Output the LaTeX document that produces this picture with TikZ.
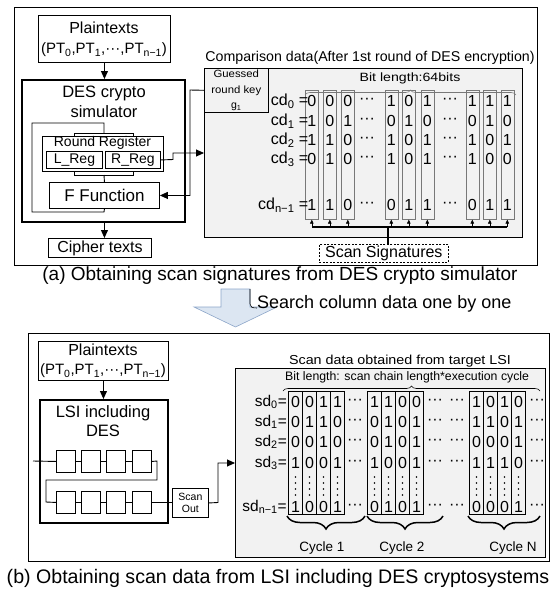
\documentclass[tikz,border=0pt]{standalone}
\usepackage{fontspec}
\usepackage{graphicx}
\setmainfont{Liberation Sans}
\usetikzlibrary{arrows.meta,decorations.pathreplacing}
\newcommand{\fsz}[1]{\fontsize{#1}{#1}\selectfont}
\newcommand{\ddd}{\textperiodcentered\textperiodcentered\textperiodcentered}
\newcommand{\hstr}[2]{\scalebox{#1}[1]{#2}}
\definecolor{grayfill}{RGB}{242,242,242}
\definecolor{colgray}{RGB}{120,120,120}
\definecolor{arrowfill}{RGB}{220,230,242}
\definecolor{arrowline}{RGB}{140,165,200}
\begin{document}
\begin{tikzpicture}[x=1pt,y=-1pt,
  bx/.style={draw, line width=0.9pt, inner sep=0pt, anchor=north west},
  gbox/.style={draw, line width=0.6pt, fill=grayfill, inner sep=0pt, anchor=north west},
  colA/.style={draw=colgray, line width=0.6pt, inner sep=0pt, anchor=north west},
  colB/.style={draw, line width=1pt, inner sep=0pt, anchor=north west},
  ln/.style={line width=0.9pt},
  arr/.style={line width=0.9pt, -{Triangle[length=8pt,width=7pt]}},
  sarr/.style={line width=0.6pt, -{Triangle[length=4pt,width=3.5pt]}},
  txt/.style={inner sep=0pt}]
\useasboundingbox (0,0) rectangle (556,592);

% ================= Part (a) =================
\node[bx, line width=1.3pt, minimum width=523, minimum height=258] (frameA) at (14,7) {};
\node[bx, minimum width=132, minimum height=47] (ptA) at (38,15) {};
\node[txt, font=\fsz{16}] (ptAt) at (104,28) {Plaintexts};
\node[txt, font=\fsz{15}] (ptAs) at (104,50) {(PT\textsubscript{0},PT\textsubscript{1},\ddd,PT\textsubscript{n−1})};

\node[bx, line width=2pt, minimum width=163, minimum height=142] (des) at (21,79) {};
\node[txt, font=\fsz{16.5}, align=center] (dest) at (104,102) {DES crypto\\[4pt]simulator};

\node[bx, minimum width=121, minimum height=35] (rr) at (42,136) {};
\node[txt, font=\fsz{14}] (rrt) at (102.5,143) {Round Register};
\node[bx, minimum width=56, minimum height=17, font=\fsz{14}] (lreg) at (46,151) {L\_Reg};
\node[bx, minimum width=55, minimum height=17, font=\fsz{14}] (rreg) at (105,151) {R\_Reg};
\node[bx, minimum width=110, minimum height=26, font=\fsz{17}] (ff) at (49,182) {F Function};
\node[bx, minimum width=103, minimum height=19, font=\fsz{16}] (ct) at (48,238) {Cipher texts};

\draw[ln] (74,136) |- (133,133) -- (133,136);
\draw[ln] (74,171) |- (133,175) -- (133,171);
\draw[ln] (104,175) -- (ff.north);
\draw[ln] (104,133) -- (104,123) -- (32,123) -- (32,212) -- (104,212) -- (ff.south);

\draw[arr] (ptA.south) -- (ptA.south |- des.north);
\draw[arr] (ptA.south |- des.south) -- (ptA.south |- ct.north);

\node[txt, font=\fsz{14.2}] (cmpt) at (370,58) {Comparison data(After 1st round of DES encryption)};
\node[gbox, minimum width=318, minimum height=169] (gA) at (204,68) {};
\node[gbox, minimum width=64, minimum height=44] (gk) at (204,68) {};
\node[txt, align=center, font=\fontsize{10.5}{15.5}\selectfont] (gkt) at (gk.center) {\hstr{1.08}{Guessed}\\\hstr{1.08}{round key}\\g\textsubscript{1}};
\node[txt, font=\fsz{12}] (blA) at (410,78) {\hstr{1.18}{Bit length:64bits}};
\draw[colgray, line width=0.6pt, decorate, decoration={brace, amplitude=5pt}] (305,95) -- (516,95);

\coordinate (inA) at (204,153);
\draw[arr] (rreg.east) -- (173,159.5) |- (inA);
\draw[arr] (gk.west) -- (190,90) |- (ff.east);

\foreach \cx [count=\i] in {311.5,329.5,347.5,391,408.5,427,472,489.5,507} {
  \node[colA, minimum width=13, minimum height=129] (c\i) at (\cx-6.5,90) {};
}
\coordinate (barA) at (0,227);
\foreach \i in {1,...,9} { \draw[sarr] (c\i.south |- barA) -- (c\i.south); }
\draw[line width=1.1pt] (c1.south |- barA) -- (c9.south |- barA);
\node[draw, dash pattern=on 2pt off 1.5pt, line width=0.6pt, anchor=north west, minimum width=129, minimum height=18, inner sep=0pt, font=\fsz{16}] (ss) at (319,244) {Scan Signatures};
\coordinate (bm) at (388,227);
\draw[line width=1.1pt] (bm) -- (bm |- ss.north);

\foreach \y/\lab/\bits [count=\k] in {
   101/{cd\textsubscript{0} =}/{0,0,0,1,0,1,1,1,1},
   121/{cd\textsubscript{1} =}/{1,0,1,0,1,0,0,1,0},
   140/{cd\textsubscript{2} =}/{1,1,0,1,0,1,1,0,1},
   159/{cd\textsubscript{3} =}/{0,1,0,1,0,1,1,0,0},
   205/{cd\textsubscript{n−1} =}/{1,1,0,0,1,1,0,1,1}} {
  \coordinate (rowA\k) at (0,\y);
  \node[txt, anchor=east, font=\fsz{16}] (la\k) at (308.5,\y) {\lab};
  \foreach \b [count=\i] in \bits { \node[txt, font=\fsz{16}] (a-\k-\i) at (c\i |- rowA\k) {\b}; }
  \node[txt, font=\fsz{16}] (da1-\k) at (367,\y) {\ddd};
  \node[txt, font=\fsz{16}] (da2-\k) at (450,\y) {\ddd};
}

\node[txt, font=\fsz{19}] (capA) at (280,276) {(a) Obtaining scan signatures from DES crypto simulator};

% big arrow
\draw[arrowline, fill=arrowfill, line width=0.6pt] (221,289) -- (250,289) -- (250,307) -- (277,307) -- (235.5,327) -- (194,307) -- (221,307) -- cycle;
\draw[line width=0.6pt] (250,289) -- (250,304) .. controls (250,307) and (252,308) .. (257,308);
\node[txt, font=\fsz{18}, anchor=west] (srch) at (257,304) {Search column data one by one};

% ================= Part (b) =================
\node[bx, line width=1.3pt, minimum width=521, minimum height=228] (frameB) at (28,333) {};
\node[bx, minimum width=130, minimum height=39] (ptB) at (38,341) {};
\node[txt, font=\fsz{16}] (ptBt) at (103,350) {Plaintexts};
\node[txt, font=\fsz{15}] (ptBs) at (103,371) {(PT\textsubscript{0},PT\textsubscript{1},\ddd,PT\textsubscript{n−1})};

\node[bx, line width=2pt, minimum width=128, minimum height=123] (lsi) at (39,399) {};
\node[txt, font=\fsz{16.5}, align=center] (lsit) at (103,421) {LSI including\\[3pt]DES};
\draw[arr] (ptB.south) -- (ptB.south |- lsi.north);

\foreach \x [count=\i] in {56,81,106,132} {
  \node[bx, minimum width=19, minimum height=22] (ru\i) at (\x,450) {};
  \node[bx, minimum width=19, minimum height=22] (rl\i) at (\x,491) {};
}
\coordinate (sin) at (33,461);
\draw[ln] (sin) -- (ru1.west);
\draw[ln] (ru1.east) -- (ru2.west);
\draw[ln] (ru2.east) -- (ru3.west);
\draw[ln] (ru3.east) -- (ru4.west);
\draw[ln] (ru4.east) -- (157,461) -- (157,480) -- (46,480) -- (46,502) -- (rl1.west);
\draw[ln] (rl1.east) -- (rl2.west);
\draw[ln] (rl2.east) -- (rl3.west);
\draw[ln] (rl3.east) -- (rl4.west);
\node[bx, minimum width=36, minimum height=29, font=\fontsize{10.5}{12.5}\selectfont, align=center] (so) at (172,488) {Scan\\Out};
\draw[ln] (rl4.east) -- (rl4.east -| so.west);

\node[gbox, minimum width=310, minimum height=189] (gB) at (235,368) {};
\coordinate (inB) at (235,463);
\draw[arr] (so.east) -- (218,502.5) |- (inB);
\node[txt, font=\fsz{13}] (sdt) at (400,361) {\hstr{1.1}{Scan data obtained from target LSI}};
\node[txt, font=\fsz{12.3}, anchor=west] (blB) at (285,377) {Bit length: scan chain length*execution cycle};
\draw[line width=0.6pt, decorate, decoration={brace, amplitude=5pt}] (283,391) -- (540,391);

\foreach \lx [count=\i] in {288,302,316,330,367,381,395,409,469,483,497,511} {
  \node[colB, minimum width=14, minimum height=123] (s\i) at (\lx,391) {};
  \foreach \yy [count=\j] in {477,483,489,495} { \fill (s\i.center |- 0,\yy) circle (0.8pt); }
}

\foreach \y/\lab/\bits [count=\k] in {
   402/{sd\textsubscript{0}=}/{0,0,1,1,1,1,0,0,1,0,1,0},
   422/{sd\textsubscript{1}=}/{0,1,1,0,0,1,0,1,1,1,0,1},
   442/{sd\textsubscript{2}=}/{0,0,1,0,0,1,0,1,0,0,0,1},
   463/{sd\textsubscript{3}=}/{1,0,0,1,1,0,0,1,1,1,1,0},
   507/{sd\textsubscript{n−1}=}/{1,0,0,1,0,1,0,1,0,0,0,1}} {
  \coordinate (rowB\k) at (0,\y);
  \node[txt, anchor=east, font=\fsz{15.5}] (lb\k) at (287,\y) {\lab};
  \foreach \b [count=\i] in \bits { \node[txt, font=\fsz{16}] (b-\k-\i) at (s\i |- rowB\k) {\b}; }
  \node[txt, font=\fsz{16}] (db1-\k) at (355,\y) {\ddd};
  \node[txt, font=\fsz{16}] (db2-\k) at (435,\y) {\ddd};
  \node[txt, font=\fsz{16}] (db3-\k) at (457,\y) {\ddd};
  \node[txt, font=\fsz{16}] (db4-\k) at (537,\y) {\ddd};
}

\draw[line width=1.5pt, decorate, decoration={brace, amplitude=13pt, mirror}] (287,516) -- (365,516);
\draw[line width=1.5pt, decorate, decoration={brace, amplitude=13pt, mirror}] (367,516) -- (443,516);
\draw[line width=1.5pt, decorate, decoration={brace, amplitude=13pt, mirror}] (468,516) -- (540,516);
\node[txt, font=\fsz{13.5}] (cy1) at (322,548) {Cycle 1};
\node[txt, font=\fsz{13.5}] (cy2) at (402,548) {Cycle 2};
\node[txt, font=\fsz{13.5}] (cyN) at (513,548) {Cycle N};

\node[txt, font=\fsz{19.6}] (capB) at (278,578) {(b) Obtaining scan data from LSI including DES cryptosystems};
\end{tikzpicture}
\end{document}
